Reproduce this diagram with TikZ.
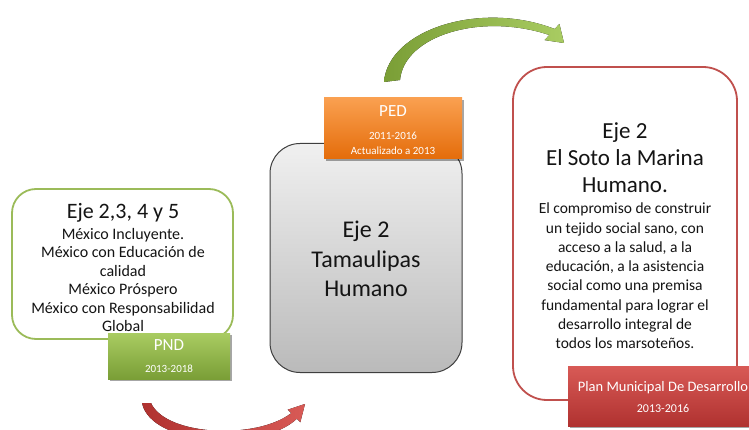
\documentclass[tikz,border=0pt]{standalone}
\usepackage{fontspec}
\setmainfont{Carlito}
\usetikzlibrary{shadows}
\definecolor{gline}{HTML}{9BBB59}
\definecolor{gtop}{HTML}{A9CC62}
\definecolor{gbot}{HTML}{7A9E36}
\definecolor{otop}{HTML}{FAA050}
\definecolor{obot}{HTML}{E46C0A}
\definecolor{rline}{HTML}{C0504D}
\definecolor{rtop}{HTML}{D85A56}
\definecolor{rbot}{HTML}{B03230}
\definecolor{graytop}{HTML}{F0F0F0}
\definecolor{graybot}{HTML}{BABABA}
\definecolor{grayline}{HTML}{3F3F3F}
\definecolor{txt}{HTML}{141414}
\begin{document}
\begin{tikzpicture}[x=1pt,y=-1pt,
  contentbox/.style={draw, line width=1.8pt, fill=white, rounded corners=#1, inner sep=0pt},
  labelbox/.style={rectangle, inner sep=0pt, text=white, align=center,
     drop shadow={shadow xshift=2pt, shadow yshift=-2pt, opacity=0.35, fill=black}},
  bodytext/.style={text=txt, align=center, inner sep=0pt},
]
\useasboundingbox (0,0) rectangle (749,430);

% ---------- green (PND) ----------
\node[contentbox=24pt, draw=gline, minimum width=221pt, minimum height=150pt] (pndbox) at (122.5,264) {};
\node[bodytext, font=\fontsize{22}{26}\selectfont] (pndtitle) at (123,213) {Eje 2,3, 4 y 5};
\node[bodytext, font=\fontsize{16}{18.4}\selectfont] (pndtext) at (123,280)
  {México Incluyente.\\México con Educación de\\calidad\\México Próspero\\México con Responsabilidad\\Global};
\node[labelbox, top color=gtop, bottom color=gbot, minimum width=122pt, minimum height=46pt] (pnd) at (169,356) {};
\node[text=white, inner sep=0pt, font=\fontsize{17}{20}\selectfont] (pndlab) at (169,345) {PND};
\node[text=white, inner sep=0pt, font=\fontsize{11}{13}\selectfont] (pndyear) at (169,369) {2013-2018};

% ---------- gray (PED) ----------
\node[draw=grayline, line width=1pt, rounded corners=30pt, top color=graytop, bottom color=graybot,
      minimum width=192pt, minimum height=229pt, inner sep=0pt] (pedbox) at (366,258) {};
\node[bodytext, font=\fontsize{24}{29.5}\selectfont] (pedtext) at (366,259) {Eje 2\\Tamaulipas\\Humano};
\node[labelbox, top color=otop, bottom color=obot, minimum width=138pt, minimum height=61pt] (ped) at (393,128.5) {};
\node[text=white, inner sep=0pt, font=\fontsize{17}{20}\selectfont] (pedlab) at (393,111) {PED};
\node[text=white, inner sep=0pt, align=center, font=\fontsize{11}{15}\selectfont] (pedyear) at (393,143) {2011-2016\\Actualizado a 2013};

% ---------- red (PMD) ----------
\node[contentbox=34pt, draw=rline, minimum width=224pt, minimum height=333pt] (pmdbox) at (625,233.5) {};
\node[bodytext, font=\fontsize{23}{27}\selectfont] (pmdtitle) at (625,158) {Eje 2\\El Soto la Marina\\Humano.};
\node[bodytext, font=\fontsize{15.5}{19.3}\selectfont] (pmdtext) at (625,276)
  {El compromiso de construir\\un tejido social sano, con\\acceso a la salud, a la\\educación, a la asistencia\\social como una premisa\\fundamental para lograr el\\desarrollo integral de\\todos los marsoteños.};
\node[labelbox, top color=rtop, bottom color=rbot, minimum width=186pt, minimum height=60pt] (pmd) at (661,396) {};
\node[text=white, inner sep=0pt, font=\fontsize{14.5}{17}\selectfont] (pmdlab) at (663,388) {Plan Municipal De Desarrollo};
\node[text=white, inner sep=0pt, font=\fontsize{12}{14}\selectfont] (pmdyear) at (663,408) {2013-2016};

% ---------- arrows ----------
\fill[left color=gbot, right color=gtop]
  (384,82) .. controls (388,30) and (480,0) .. (554.7,29)
  -- (559.4,23.9) -- (564,43) -- (544.6,40.1) -- (549.3,35)
  .. controls (480,12) and (404,36) .. (400,80) -- cycle;

\fill[left color=rbot, right color=rtop]
  (142,403) .. controls (151,446) and (262,452) .. (296.8,418.8)
  -- (300.3,422.3) -- (305,404) -- (287.7,409.7) -- (291.2,413.2)
  .. controls (256,440) and (166,436) .. (151,403) -- cycle;
\end{tikzpicture}
\end{document}
